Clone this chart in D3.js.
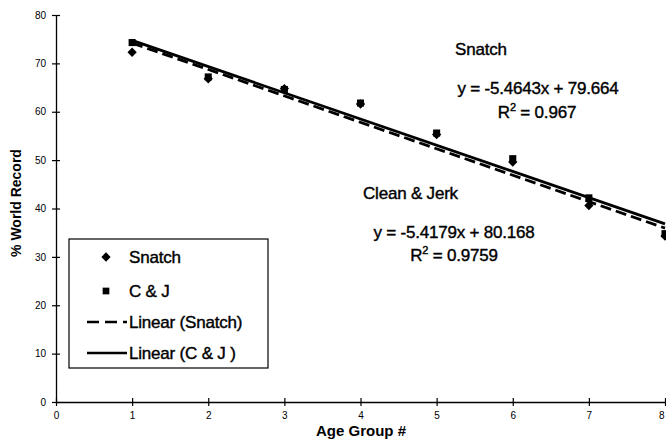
<!DOCTYPE html>
<html>
<head>
<meta charset="utf-8">
<script src="https://cdn.jsdelivr.net/npm/d3@7"></script>
<style>
  body { margin: 0; background: #fff; }
  text { font-family: "Liberation Sans", Arial, sans-serif; fill: #000; }
</style>
</head>
<body>
<script>
// data
var ageGroups = [1, 2, 3, 4, 5, 6, 7, 8];
var snatch = [72.3, 66.8, 64.8, 61.6, 55.3, 49.6, 40.6, 34.3];
var cleanJerk = [74.3, 67.2, 64.6, 61.8, 55.6, 50.3, 42.2, 34.8];
// trendline coefficients (slope, intercept) as printed on the chart
var snatchFit = [-5.4643, 79.664];
var cjFit = [-5.4179, 80.168];
var xTicks = [0, 1, 2, 3, 4, 5, 6, 7, 8];
var yTicks = [0, 10, 20, 30, 40, 50, 60, 70, 80];

var margin = { top: 15, right: 1, bottom: 38, left: 56 },
    width = 666 - margin.left - margin.right,
    height = 440 - margin.top - margin.bottom;

var svg = d3.select("body").append("svg")
    .attr("width", 666)
    .attr("height", 440);

var g = svg.append("g")
    .attr("transform", "translate(" + margin.left + "," + margin.top + ")");

var x = d3.scaleLinear().domain([0, 8]).range([0, width]);
var y = d3.scaleLinear().domain([0, 80]).range([height, 0]);

// axes with cross ticks
var xAxis = g.append("g")
    .attr("transform", "translate(0," + height + ")")
    .call(d3.axisBottom(x).tickValues(xTicks).tickSize(4).tickSizeOuter(0).tickPadding(6));
xAxis.selectAll(".tick line").attr("y1", -4).attr("y2", 4);
// last label sits on the edge, keep it inside the window
xAxis.selectAll(".tick text").filter(function(d) { return d === 8; }).attr("text-anchor", "end").attr("dx", -1);

var yAxis = g.append("g")
    .call(d3.axisLeft(y).tickValues(yTicks).tickSize(4).tickSizeOuter(0).tickPadding(6));
yAxis.selectAll(".tick line").attr("x1", -4).attr("x2", 4);

g.selectAll(".domain").attr("stroke", "#000").attr("stroke-width", 1.3);
g.selectAll(".tick line").attr("stroke", "#000").attr("stroke-width", 1.2);
g.selectAll(".tick text").style("font-size", "10px").attr("fill", "#000");

// axis titles
svg.append("text")
    .attr("x", 361).attr("y", 436)
    .attr("text-anchor", "middle")
    .style("font-size", "15px").style("font-weight", "bold")
    .text("Age Group #");

svg.append("text")
    .attr("transform", "translate(21,203) rotate(-90)")
    .attr("text-anchor", "middle")
    .style("font-size", "14px").style("font-weight", "bold")
    .text("% World Record");

// trendlines
var fitLine = function(c) {
  return d3.line()
    .x(function(d) { return x(d); })
    .y(function(d) { return y(c[0] * d + c[1]); })([1, 8]);
};

g.append("path")
    .attr("d", fitLine(cjFit))
    .attr("fill", "none").attr("stroke", "#000").attr("stroke-width", 2.8);

g.append("path")
    .attr("d", fitLine(snatchFit))
    .attr("fill", "none").attr("stroke", "#000").attr("stroke-width", 2.8)
    .attr("stroke-dasharray", "11,5");

// points
g.selectAll(".snatch")
    .data(ageGroups)
    .enter().append("path")
    .attr("class", "snatch")
    .attr("d", d3.symbol().type(d3.symbolDiamond2).size(55))
    .attr("transform", function(d, i) { return "translate(" + x(d) + "," + y(snatch[i]) + ")"; })
    .attr("fill", "#000");

g.selectAll(".cj")
    .data(ageGroups)
    .enter().append("path")
    .attr("class", "cj")
    .attr("d", d3.symbol().type(d3.symbolSquare).size(50))
    .attr("transform", function(d, i) { return "translate(" + x(d) + "," + y(cleanJerk[i]) + ")"; })
    .attr("fill", "#000");

// annotations (scanned text looks heavy, a thin stroke thickens it)
var note = function(tx, ty, txt, anchor) {
  return svg.append("text")
      .attr("x", tx).attr("y", ty)
      .attr("text-anchor", anchor || "start")
      .style("font-size", "17px")
      .style("letter-spacing", "-0.2px")
      .attr("stroke", "#000").attr("stroke-width", 0.4)
      .text(txt);
};
note(455, 55, "Snatch");
note(538, 94, "y = -5.4643x + 79.664", "middle");
var r1 = note(537, 118, "R", "middle");
r1.append("tspan").attr("dy", -7).style("font-size", "11px").text("2");
r1.append("tspan").attr("dy", 7).text(" = 0.967");

note(363, 199, "Clean & Jerk");
note(454, 238, "y = -5.4179x + 80.168", "middle");
var r2 = note(454, 261, "R", "middle");
r2.append("tspan").attr("dy", -7).style("font-size", "11px").text("2");
r2.append("tspan").attr("dy", 7).text(" = 0.9759");

// legend
var legend = svg.append("g");
legend.append("rect")
    .attr("x", 69).attr("y", 239)
    .attr("width", 199).attr("height", 129)
    .attr("fill", "#fff").attr("stroke", "#000").attr("stroke-width", 1.2);

var legendItems = ["Snatch", "C & J", "Linear (Snatch)", "Linear (C & J )"];
var legendY = [257, 291, 322, 353];

legendItems.forEach(function(name, i) {
  var ly = legendY[i];
  if (i === 0) {
    legend.append("path")
      .attr("d", d3.symbol().type(d3.symbolDiamond2).size(55))
      .attr("transform", "translate(106," + ly + ")");
  } else if (i === 1) {
    legend.append("path")
      .attr("d", d3.symbol().type(d3.symbolSquare).size(45))
      .attr("transform", "translate(106," + ly + ")");
  } else {
    legend.append("line")
      .attr("x1", 87).attr("x2", 127).attr("y1", ly).attr("y2", ly)
      .attr("stroke", "#000").attr("stroke-width", 2.6)
      .attr("stroke-dasharray", i === 2 ? "12,6" : null);
  }
  legend.append("text")
    .attr("x", 129).attr("y", ly + 6)
    .style("font-size", "17px")
    .style("letter-spacing", "-0.2px")
    .attr("stroke", "#000").attr("stroke-width", 0.4)
    .text(name);
});
</script>
</body>
</html>
